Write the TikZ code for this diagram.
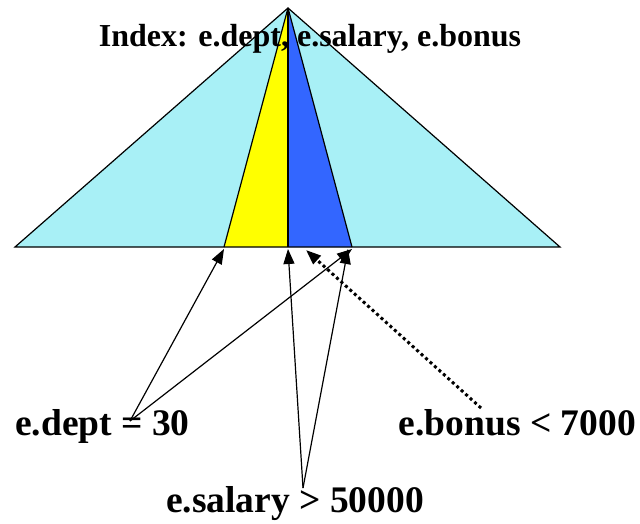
\documentclass[tikz,border=0pt]{standalone}
\usepackage{fontspec}
\setmainfont{Liberation Serif}
\usetikzlibrary{arrows.meta}
\definecolor{treecyan}{RGB}{168,240,246}
\definecolor{treeblue}{RGB}{51,102,255}
\definecolor{treeyellow}{RGB}{255,255,0}
\begin{document}
\begin{tikzpicture}[x=1pt,y=-1pt,
  lbl/.style={font=\fontsize{37.5}{37.5}\selectfont\bfseries, inner sep=0pt},
  arr/.style={line width=1.2pt, -{Triangle[length=15pt,width=11pt]}},
  edge/.style={line width=1.2pt}]
\useasboundingbox (0,0) rectangle (640,524);
\coordinate (apex) at (288,8);
\coordinate (bl) at (15,247);
\coordinate (br) at (560,247);
\coordinate (y1) at (224,247);
\coordinate (mid) at (288,247);
\coordinate (b2) at (352,247);
\fill[treecyan] (apex) -- (bl) -- (br) -- cycle;
\fill[treeyellow] (apex) -- (y1) -- (mid) -- cycle;
\fill[treeblue] (apex) -- (mid) -- (b2) -- cycle;
\draw[edge] (apex) -- (bl) -- (br) -- cycle;
\draw[edge] (apex) -- (y1);
\draw[edge] (apex) -- (mid);
\draw[edge] (apex) -- (b2);
\node[font=\fontsize{32}{32}\selectfont\bfseries, inner sep=0pt, anchor=base] (idx) at (310,47) {Index: e.dept, e.salary, e.bonus};
\node[lbl, anchor=base west] (dept) at (15,435) {e.dept = 30};
\node[lbl, anchor=base east] (bonus) at (636,435) {e.bonus < 7000};
\node[lbl, anchor=base] (sal) at (295,512) {e.salary > 50000};
\coordinate (dsrc) at (130,421);
\coordinate (ssrc) at (303,488);
\coordinate (bsrc) at (481,408);
\draw[arr] (dsrc) -- (224,249);
\draw[arr] (dsrc) -- (352,249);
\draw[arr] (ssrc) -- (288,249);
\draw[arr] (ssrc) -- (348,249);
\draw[arr, line width=3pt, dash pattern=on 3pt off 3pt] (bsrc) -- (306,250);
\end{tikzpicture}
\end{document}
